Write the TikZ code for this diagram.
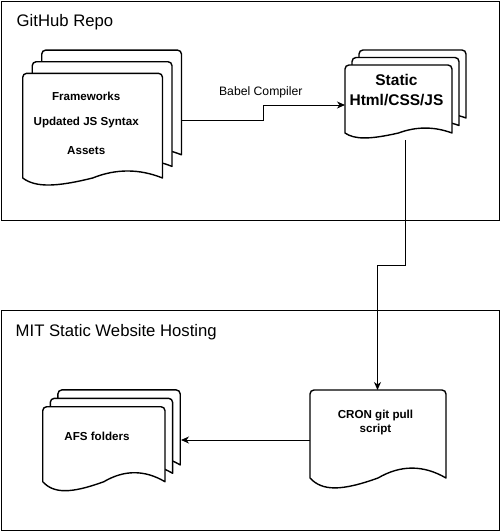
\documentclass[tikz,border=0pt]{standalone}
\usepackage{fontspec}
\setmainfont{Liberation Sans}
\usetikzlibrary{arrows.meta}
\newcommand\mydocshape[5]{% left top right endy depth
  \pgfmathsetmacro\mdL{#1}\pgfmathsetmacro\mdT{#2}\pgfmathsetmacro\mdR{#3}%
  \pgfmathsetmacro\mdE{#4}\pgfmathsetmacro\mdD{#5}%
  \pgfmathsetmacro\mdM{(\mdL+\mdR)/2}%
  \pgfmathsetmacro\mdS{(\mdR-\mdL)/6}%
  \pgfmathsetmacro\mdA{(\mdR-\mdL)*0.27}%
  \pgfmathsetmacro\mdB{(\mdR-\mdL)*0.09}%
  \pgfmathsetmacro\mdUp{\mdE-0.6*\mdD}%
  \pgfmathsetmacro\mdDn{\mdE+0.6*\mdD}%
  \filldraw[docline] (\mdL,\mdE) -- (\mdL,\mdT+4)
    .. controls (\mdL,\mdT+1.8) and (\mdL+1.8,\mdT) .. (\mdL+4,\mdT)
    -- (\mdR-4,\mdT)
    .. controls (\mdR-1.8,\mdT) and (\mdR,\mdT+1.8) .. (\mdR,\mdT+4)
    -- (\mdR,\mdE)
    .. controls (\mdR-\mdS,\mdUp) and (\mdM+\mdS,\mdUp) .. (\mdM,\mdE)
    .. controls (\mdM-\mdA,\mdDn) and (\mdL+\mdB,\mdDn) .. (\mdL,\mdE) -- cycle;
}
\tikzset{
  docline/.style={draw=black, fill=white, line width=1.4pt, line join=round},
  container/.style={draw=black, line width=1pt, fill=none, inner sep=0, outer sep=0},
  titletext/.style={font=\fontsize{16.7}{20}\selectfont, anchor=base west, inner sep=0},
  doctext/.style={font=\fontsize{11.6}{14}\selectfont\bfseries, anchor=base, inner sep=0},
  bigdoctext/.style={font=\fontsize{15.5}{19}\selectfont\bfseries, anchor=base, inner sep=0},
  lbltext/.style={font=\fontsize{12.2}{14}\selectfont, anchor=base, inner sep=0},
  conn/.style={draw=black, line width=1pt, -{Stealth[length=8pt,width=7pt,inset=2.5pt]}},
}
\begin{document}
\begin{tikzpicture}[x=1pt,y=-1pt]
\useasboundingbox[fill=white] (0,0) rectangle (501,531);

% containers
\node[container, minimum width=498pt, minimum height=219pt] (repo) at (250.5,110.5) {};
\node[titletext] (repoTitle) at (16.5,26) {GitHub Repo};
\node[container, minimum width=498pt, minimum height=220pt] (mit) at (250.5,420) {};
\node[titletext] (mitTitle) at (15.5,336) {MIT Static Website Hosting};

% source multi-document
\mydocshape{41.7}{50.1}{181.5}{154.8}{15.6}
\mydocshape{32.2}{61.7}{172}{166.4}{15.6}
\mydocshape{22.7}{73.3}{162.5}{178}{15.6}
\node[doctext] (srcA) at (86.2,100) {Frameworks};
\node[doctext] (srcB) at (86.2,125) {Updated JS Syntax};
\node[doctext] (srcC) at (86.2,154) {Assets};

% static multi-document
\mydocshape{359}{50}{466}{118}{11}
\mydocshape{352}{57.5}{459}{125.5}{11}
\mydocshape{345}{65}{452}{133}{11}
\node[bigdoctext] (statA) at (396.5,85) {Static};
\node[bigdoctext] (statB) at (396.5,105) {Html/CSS/JS};

% cron document
\mydocshape{310}{390}{446}{478}{22}
\node[doctext] (cronA) at (375.5,418.5) {CRON git pull};
\node[doctext] (cronB) at (375.5,432) {script};

% AFS multi-document
\mydocshape{57.9}{389.9}{180.2}{464.9}{20}
\mydocshape{50.3}{398.3}{172.6}{473.3}{20}
\mydocshape{42.7}{406.7}{165}{481.7}{20}
\node[doctext] (afs) at (97,440) {AFS folders};

% connector end points
\coordinate (srcOut) at (181.5,120.7);
\coordinate (statIn) at (345,105);
\coordinate (statOut) at (405,140);
\coordinate (bend) at (405,265);
\coordinate (cronIn) at (377.5,390);
\coordinate (cronOut) at (310,440);
\coordinate (afsIn) at (181,440);

\draw[conn] (srcOut) -- ++(82,0) |- (statIn);
\node[lbltext] (babel) at (260.8,95) {Babel Compiler};
\draw[conn] (statOut) -- (bend) -| (cronIn);
\draw[conn] (cronOut) -- (afsIn);
\end{tikzpicture}
\end{document}
